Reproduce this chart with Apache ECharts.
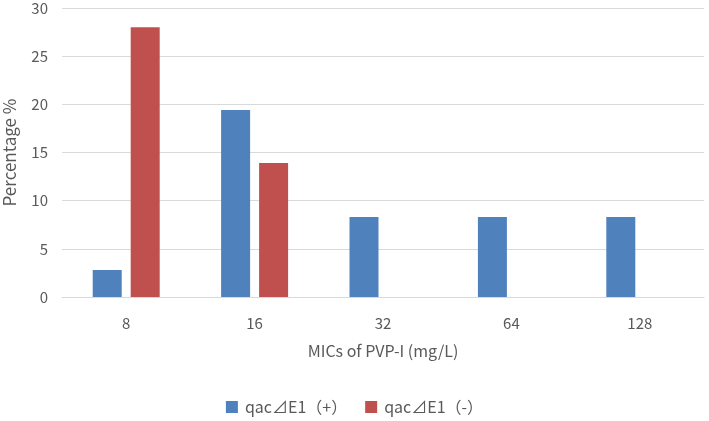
<!DOCTYPE html>
<html><head><meta charset="utf-8">
<script src="https://cdn.jsdelivr.net/npm/echarts@6/dist/echarts.min.js"></script>
<style>html,body{margin:0;padding:0;background:#fff}#c{width:709px;height:421px}</style>
</head><body><div id="c"></div>
<script>
const categories = ['8', '16', '32', '64', '128'];
const seriesNames = ['qac⊿E1（+）', 'qac⊿E1（-）'];
const positiveValues = [2.8, 19.4, 8.3, 8.3, 8.3];
const negativeValues = [28.0, 13.9, 0, 0, 0];
const yTicks = { min: 0, max: 30, interval: 5 };

const font = '"Noto Sans CJK SC", "Open Sans", sans-serif';
const chart = echarts.init(document.getElementById('c'));
chart.setOption({
  animation: false,
  textStyle: { fontFamily: font },
  grid: { left: 62, right: 5, top: 8, bottom: 124, containLabel: false, outerBoundsMode: 'none' },
  legend: {
    bottom: 1, left: 'center', itemWidth: 12, itemHeight: 12, itemGap: 18,
    icon: 'rect',
    textStyle: { color: '#595959', fontSize: 16, fontFamily: font, padding: [0, 0, 0, 2] },
    data: seriesNames
  },
  xAxis: {
    type: 'category', data: categories,
    name: 'MICs of PVP-I (mg/L)', nameLocation: 'middle', nameGap: 46,
    nameTextStyle: { color: '#595959', fontSize: 16, fontFamily: font },
    axisLine: { lineStyle: { color: '#d9d9d9' } },
    axisTick: { show: false },
    axisLabel: { color: '#595959', fontSize: 15, margin: 19 }
  },
  yAxis: {
    type: 'value', min: yTicks.min, max: yTicks.max, interval: yTicks.interval,
    name: 'Percentage %', nameLocation: 'middle', nameGap: 44,
    nameTextStyle: { color: '#595959', fontSize: 17, fontFamily: font },
    axisLine: { show: false }, axisTick: { show: false },
    axisLabel: { color: '#595959', fontSize: 15, margin: 14 },
    splitLine: { lineStyle: { color: '#d9d9d9', width: 1 } }
  },
  series: [
    { name: seriesNames[0], type: 'bar', data: positiveValues, barWidth: 29, barGap: '31%', itemStyle: { color: '#4F81BD' } },
    { name: seriesNames[1], type: 'bar', data: negativeValues, barWidth: 29, itemStyle: { color: '#C0504D' } }
  ]
});
</script></body></html>
